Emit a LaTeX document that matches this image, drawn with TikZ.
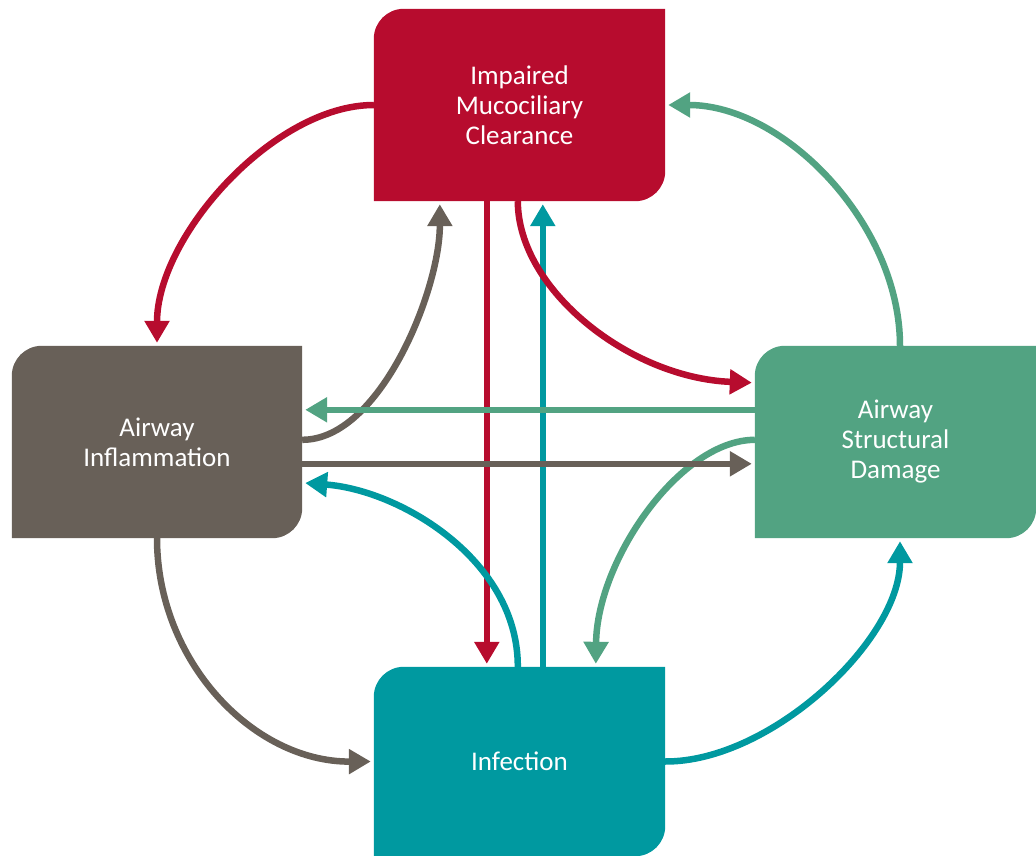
\documentclass[tikz,border=0pt]{standalone}
\usepackage{fontspec}
\setmainfont{Carlito}
\usetikzlibrary{arrows.meta,calc}
\definecolor{cred}{RGB}{183,12,46}
\definecolor{cgrey}{RGB}{104,96,88}
\definecolor{cgreen}{RGB}{82,163,130}
\definecolor{cteal}{RGB}{0,153,160}
\pgfdeclarelayer{bg}
\pgfsetlayers{bg,main}
\tikzset{
  boxnode/.style={draw=none, inner sep=0pt, text=white, align=center,
    font=\fontsize{27}{30}\selectfont},
  conn/.style={line width=6.5pt, -{Triangle[length=22pt,width=24pt]}, shorten >=3pt},
}
\newcommand{\cornerbox}[2]{%
  \fill[#2] (#1.south west) -- ($(#1.north west)+(0,30)$)
    arc[start angle=180,end angle=270,radius=30] -- (#1.north east)
    -- ($(#1.south east)+(0,-30)$)
    arc[start angle=0,end angle=90,radius=30] -- cycle;}
\begin{document}
\begin{tikzpicture}[x=1pt,y=-1pt]
\useasboundingbox (0,0) rectangle (1036,856);
\node[boxnode, minimum width=291pt, minimum height=192pt] (imc) at (519.5,105) {Impaired\\Mucociliary\\Clearance};
\node[boxnode, minimum width=290pt, minimum height=192pt] (inf) at (157,442) {Airway\\Inflammation};
\node[boxnode, minimum width=281pt, minimum height=192pt] (dmg) at (895.5,442) {Airway\\Structural\\Damage};
\node[boxnode, minimum width=291pt, minimum height=189pt] (ifc) at (519.5,761.5) {Infection};
\begin{pgfonlayer}{bg}
\cornerbox{imc}{cred}
\cornerbox{inf}{cgrey}
\cornerbox{dmg}{cgreen}
\cornerbox{ifc}{cteal}
\end{pgfonlayer}
% outer ring
\draw[conn, cred] (imc.west) .. controls (274,105) and (157,236) .. (inf.north);
\draw[conn, cgreen] ($(dmg.north)+(4.5,0)$) .. controls (900,224) and (784,105) .. (imc.east);
\draw[conn, cgrey] (inf.south) .. controls (157,661) and (253,762) .. (ifc.west);
\draw[conn, cteal] (ifc.east) .. controls (771,762) and (900,640) .. ($(dmg.south)+(4.5,0)$);
% verticals
\draw[conn, cred] ($(imc.south west)+(113,0)$) -- ($(ifc.north west)+(113,0)$);
\draw[conn, cteal] ($(ifc.north west)+(169,0)$) -- ($(imc.south west)+(169,0)$);
% inner curves
\draw[conn, cred] ($(imc.south west)+(144,0)$) .. controls (518,290) and (630,378) .. ($(dmg.north west)+(0,37)$);
\draw[conn, cgrey] ($(inf.north east)+(0,94)$) .. controls (380,440) and (440,290) .. ($(imc.south west)+(66,0)$);
\draw[conn, cteal] ($(ifc.north west)+(144,0)$) .. controls (518,560) and (400,490) .. ($(inf.north east)+(0,137)$);
\draw[conn, cgreen] ($(dmg.north west)+(0,94)$) .. controls (680,440) and (597,560) .. ($(ifc.north west)+(222,0)$);
% horizontals
\draw[conn, cgreen] ($(dmg.north west)+(0,64)$) -- ($(inf.north east)+(0,64)$);
\draw[conn, cgrey] ($(inf.north east)+(0,118)$) -- ($(dmg.north west)+(0,118)$);
\end{tikzpicture}
\end{document}
